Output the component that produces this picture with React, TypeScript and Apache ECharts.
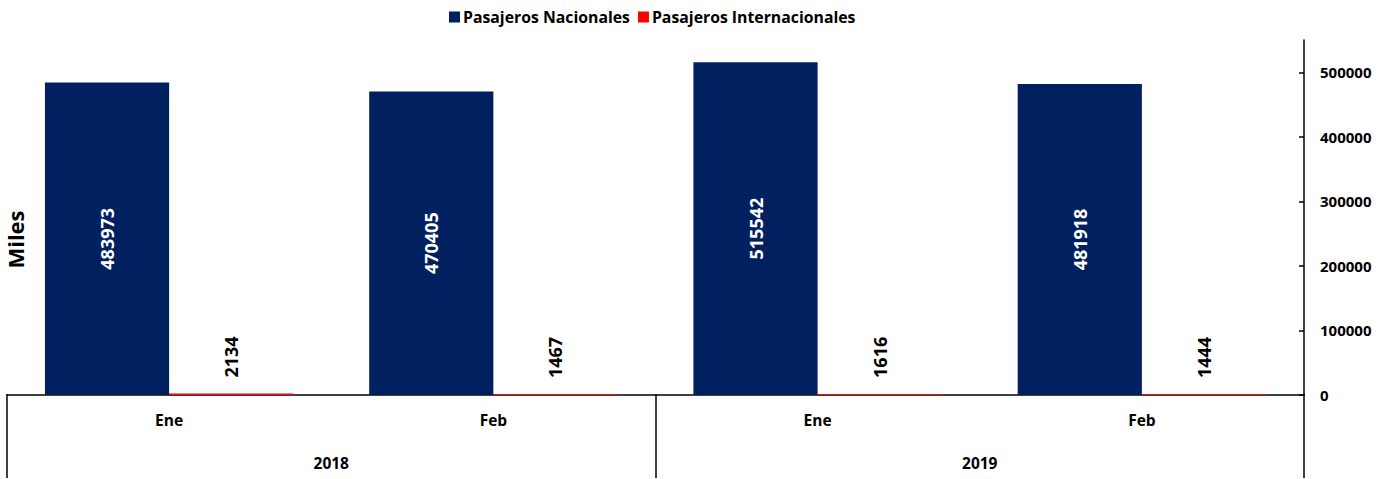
import React, { useEffect, useRef } from "react";
import * as echarts from "echarts";

const months = ["Ene", "Feb", "Ene", "Feb"];
const years = ["2018", "2019"];
const nacionales = [483973, 470405, 515542, 481918];
const internacionales = [2134, 1467, 1616, 1444];
const yTicks = [0, 100000, 200000, 300000, 400000, 500000];

const FONT = "'Open Sans', 'DejaVu Sans', sans-serif";

export default function App() {
  const ref = useRef<HTMLDivElement>(null);
  useEffect(() => {
    if (!ref.current) return;
    const chart = echarts.init(ref.current, null, { renderer: "svg" });
    chart.setOption({
      animation: false,
      backgroundColor: "#ffffff",
      textStyle: { fontFamily: FONT },
      legend: {
        top: 4,
        left: 444,
        itemWidth: 11,
        itemHeight: 11,
        itemGap: 8,
        icon: "rect",
        textStyle: { fontFamily: FONT, fontWeight: "bold", fontSize: 15.8, color: "#000", padding: [0, 0, 0, -2] },
        data: ["Pasajeros Nacionales", "Pasajeros Internacionales"],
      },
      grid: { left: 7, right: 88, top: 40, bottom: 84, containLabel: false },
      xAxis: [
        {
          type: "category",
          data: months,
          position: "bottom",
          axisLine: { show: true, lineStyle: { color: "#000", width: 1.5 } },
          axisTick: { show: false },
          axisLabel: { fontFamily: FONT, fontWeight: "bold", fontSize: 15.5, color: "#000", margin: 17 },
        },
        {
          type: "category",
          data: years,
          position: "bottom",
          offset: 83,
          axisLine: { show: false },
          axisTick: { show: true, inside: true, length: 84, lineStyle: { color: "#000", width: 1.5 } },
          axisLabel: { inside: true, fontFamily: FONT, fontWeight: "bold", fontSize: 15.5, color: "#000", margin: 7 },
        },
      ],
      yAxis: {
        type: "value",
        position: "right",
        min: 0,
        max: 550000,
        interval: 50000,
        splitLine: { show: false },
        axisLine: { show: true, lineStyle: { color: "#000", width: 1.5 } },
        axisTick: { show: true, inside: true, length: 5, customValues: yTicks, lineStyle: { color: "#000", width: 1.5 } },
        axisLabel: {
          customValues: yTicks,
          formatter: (v: number) => String(v),
          fontFamily: FONT,
          fontWeight: "bold",
          fontSize: 15,
          color: "#000",
          margin: 16,
        },
      },
      series: [
        {
          name: "Pasajeros Nacionales",
          type: "bar",
          data: nacionales,
          itemStyle: { color: "#002060" },
          barGap: "0%",
          barCategoryGap: "23.4%",
          label: {
            show: true,
            position: "inside",
            rotate: 90,
            color: "#fff",
            fontFamily: FONT,
            fontWeight: "bold",
            fontSize: 18,
          },
        },
        {
          name: "Pasajeros Internacionales",
          type: "bar",
          data: internacionales,
          itemStyle: { color: "#FF0000" },
          label: {
            show: true,
            position: "top",
            rotate: 90,
            align: "left",
            verticalAlign: "middle",
            distance: 16,
            color: "#000",
            fontFamily: FONT,
            fontWeight: "bold",
            fontSize: 18,
          },
        },
      ],
      graphic: [
        {
          type: "text",
          left: 4,
          top: "middle",
          rotation: Math.PI / 2,
          style: { text: "Miles", fontFamily: FONT, fontWeight: "bold", fontSize: 22, fill: "#000" },
        },
      ],
    });
    return () => chart.dispose();
  }, []);
  return <div ref={ref} style={{ position: "absolute", left: 0, top: 0, width: 1392, height: 479 }} />;
}
